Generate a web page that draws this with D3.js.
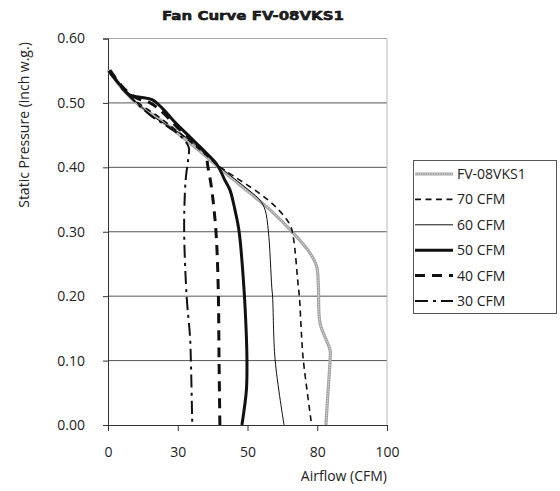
<!DOCTYPE html>
<html>
<head>
<meta charset="utf-8">
<script src="https://cdn.jsdelivr.net/npm/d3@7/dist/d3.min.js"></script>
<style>
  body { margin: 0; background: #fff; }
  svg { display: block; }
  text { font-family: "Open Sans", sans-serif; fill: #222; }
</style>
</head>
<body>
<svg id="chart" width="560" height="491"></svg>
<script>
// ---- Data ----
const seriesNames = ["FV-08VKS1", "70 CFM", "60 CFM", "50 CFM", "40 CFM", "30 CFM"];

// airflow (CFM) and static pressure (inch w.g.) per series
const fvAirflow  = [0, 6.1, 11.5, 18.6, 25.8, 33.0, 39.1, 45.5, 50.9, 58.1, 66.4, 72.4, 74.8, 75.4, 76.0, 79.6, 79.6, 78.9, 78.1];
const fvPressure = [0.551, 0.517, 0.495, 0.474, 0.450, 0.425, 0.402, 0.379, 0.360, 0.334, 0.298, 0.267, 0.246, 0.215, 0.158, 0.116, 0.101, 0.054, 0.0];

const c70Airflow  = [0.7, 5.4, 11.5, 18.6, 25.8, 33.0, 39.1, 44.8, 54.5, 60.5, 65.2, 66.4, 68.2, 68.6, 69.4, 70.0, 73.0];
const c70Pressure = [0.550, 0.520, 0.498, 0.477, 0.453, 0.427, 0.404, 0.387, 0.359, 0.337, 0.311, 0.292, 0.215, 0.199, 0.137, 0.101, 0.0];

const c60Airflow  = [0, 5.0, 10.8, 16.8, 22.9, 29.4, 34.8, 39.1, 44.8, 50.9, 54.5, 56.3, 57.5, 58.7, 59.0, 59.9, 63.1];
const c60Pressure = [0.548, 0.523, 0.498, 0.477, 0.461, 0.442, 0.422, 0.404, 0.384, 0.363, 0.349, 0.334, 0.300, 0.214, 0.199, 0.101, 0.0];

const c50Airflow  = [0.4, 4.3, 7.9, 11.5, 15.8, 19.4, 24.0, 29.4, 34.8, 39.1, 41.9, 43.7, 45.5, 47.0, 48.7, 49.5, 49.8, 49.6, 48.0];
const c50Pressure = [0.550, 0.528, 0.512, 0.509, 0.505, 0.492, 0.470, 0.447, 0.424, 0.404, 0.380, 0.365, 0.334, 0.300, 0.214, 0.148, 0.101, 0.054, 0.0];

const c40Airflow  = [0.7, 5.0, 9.7, 15.1, 19.4, 25.1, 31.2, 34.8, 35.8, 37.2, 38.7, 39.5, 39.8, 40.1];
const c40Pressure = [0.551, 0.526, 0.509, 0.500, 0.486, 0.461, 0.438, 0.422, 0.401, 0.365, 0.300, 0.214, 0.101, 0.0];

const c30Airflow  = [0.7, 5.0, 9.7, 15.1, 20.4, 25.1, 28.0, 29.0, 28.7, 28.0, 27.6, 27.3, 28.2, 29.4, 29.7, 30.2];
const c30Pressure = [0.548, 0.523, 0.502, 0.481, 0.466, 0.452, 0.439, 0.430, 0.411, 0.388, 0.365, 0.300, 0.199, 0.137, 0.101, 0.0];

const xTickValues = [0, 25, 50, 75, 100];
const xTickLabels = ["0", "30", "50", "80", "100"];
const yTickValues = [0, 0.1, 0.2, 0.3, 0.4, 0.5, 0.6];

const series = [
  { name: seriesNames[0], x: fvAirflow,  y: fvPressure },
  { name: seriesNames[1], x: c70Airflow, y: c70Pressure },
  { name: seriesNames[2], x: c60Airflow, y: c60Pressure },
  { name: seriesNames[3], x: c50Airflow, y: c50Pressure },
  { name: seriesNames[4], x: c40Airflow, y: c40Pressure },
  { name: seriesNames[5], x: c30Airflow, y: c30Pressure }
];

// ---- Styles ----
const styles = {
  "FV-08VKS1": { stroke: "#a5a5a5", width: 3.2, dash: null, overlay: true },
  "70 CFM":    { stroke: "#111", width: 1.6, dash: "6,4.5" },
  "60 CFM":    { stroke: "#111", width: 1.0, dash: null },
  "50 CFM":    { stroke: "#111", width: 3.0, dash: null },
  "40 CFM":    { stroke: "#111", width: 3.0, dash: "10,7" },
  "30 CFM":    { stroke: "#111", width: 2.0, dash: "13,5,3,5" }
};

const svg = d3.select("#chart");
const L = 108, R = 387, T = 38.5, B = 425;

const x = d3.scaleLinear().domain([0, 100]).range([L, R]);
const y = d3.scaleLinear().domain([0, 0.6]).range([B, T]);

// Gridlines
svg.append("g").selectAll("line")
  .data(yTickValues.filter(v => v > 0))
  .join("line")
  .attr("x1", L).attr("x2", R)
  .attr("y1", d => y(d)).attr("y2", d => y(d))
  .attr("stroke", d => d === 0.6 ? "#aaa" : "#555")
  .attr("stroke-width", 1);

// right border
svg.append("line")
  .attr("x1", R).attr("x2", R).attr("y1", T).attr("y2", B)
  .attr("stroke", "#bbb").attr("stroke-width", 1);

// Axes
const xAxis = d3.axisBottom(x)
  .tickValues(xTickValues)
  .tickFormat((d, i) => xTickLabels[i])
  .tickSize(6).tickPadding(16);
const gx = svg.append("g").attr("transform", `translate(0,${B})`).call(xAxis);
gx.select(".domain").attr("stroke", "#333");
gx.selectAll(".tick line").attr("stroke", "#333");
gx.selectAll("text").style("font-size", "14px").style("font-family", "'Open Sans', sans-serif").attr("fill", "#222");

const yAxis = d3.axisLeft(y)
  .tickValues(yTickValues)
  .tickFormat(d3.format(".2f"))
  .tickSize(5).tickPadding(18);
const gy = svg.append("g").attr("transform", `translate(${L},0)`).call(yAxis);
gy.select(".domain").attr("stroke", "#333");
gy.selectAll(".tick line").attr("stroke", "#333");
gy.selectAll("text").style("font-size", "14px").style("font-family", "'Open Sans', sans-serif").attr("fill", "#222");

// Lines
const line = d3.line()
  .x(d => x(d[0])).y(d => y(d[1]))
  .curve(d3.curveCatmullRom.alpha(0.5));

const plot = svg.append("g");
series.forEach(s => {
  const pts = s.x.map((v, i) => [v, s.y[i]]);
  const st = styles[s.name];
  plot.append("path")
    .attr("d", line(pts))
    .attr("fill", "none")
    .attr("stroke", st.stroke)
    .attr("stroke-width", st.width)
    .attr("stroke-dasharray", st.dash)
    .attr("stroke-linejoin", "round");
  if (st.overlay) {
    plot.append("path")
      .attr("d", line(pts))
      .attr("fill", "none")
      .attr("stroke", "#e2e2e2")
      .attr("stroke-width", 1)
      .attr("stroke-dasharray", "1.2,1.2");
  }
});

// Title
svg.append("text")
  .attr("x", 162).attr("y", 20)
  .attr("textLength", 182)
  .attr("lengthAdjust", "spacingAndGlyphs")
  .style("font-family", "'DejaVu Sans', sans-serif")
  .style("font-weight", "900")
  .style("font-size", "13px")
  .attr("fill", "#000")
  .attr("stroke", "#000")
  .attr("stroke-width", 0.5)
  .text("Fan Curve FV-08VKS1");

// Axis labels
svg.append("text")
  .attr("x", R).attr("y", 481)
  .attr("text-anchor", "end")
  .style("font-size", "14px")
  .text("Airflow (CFM)");

svg.append("text")
  .attr("transform", "translate(29,125) rotate(-90)")
  .attr("text-anchor", "middle")
  .style("font-size", "14px")
  .text("Static Pressure (inch w.g.)");

// Legend
const lg = svg.append("g");
lg.append("rect")
  .attr("x", 413.5).attr("y", 160.5).attr("width", 143).attr("height", 153)
  .attr("fill", "#fff").attr("stroke", "#555").attr("stroke-width", 1);

seriesNames.forEach((name, i) => {
  const st = styles[name];
  const yy = 174 + i * 25.4;
  lg.append("line")
    .attr("x1", 415).attr("x2", 453).attr("y1", yy).attr("y2", yy)
    .attr("stroke", st.stroke).attr("stroke-width", st.width)
    .attr("stroke-dasharray", st.dash);
  if (st.overlay) {
    lg.append("line")
      .attr("x1", 415).attr("x2", 453).attr("y1", yy).attr("y2", yy)
      .attr("stroke", "#e2e2e2").attr("stroke-width", 1)
      .attr("stroke-dasharray", "1.2,1.2");
  }
  lg.append("text")
    .attr("x", 457).attr("y", yy + 5)
    .style("font-size", "14px")
    .text(name);
});
</script>
</body>
</html>
